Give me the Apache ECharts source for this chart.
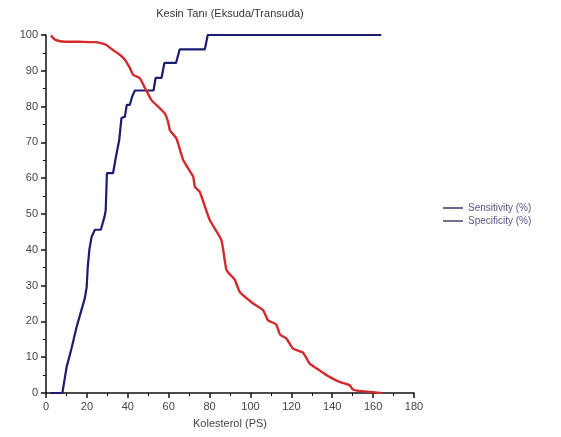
<!DOCTYPE html>
<html>
<head>
<meta charset="utf-8">
<script src="https://cdn.jsdelivr.net/npm/echarts@6/dist/echarts.min.js"></script>
<style>html,body{margin:0;padding:0;background:#fff}#c{width:561px;height:437px}</style>
</head>
<body>
<div id="c"></div>
<script>
var titleText = 'Kesin Tanı (Eksuda/Transuda)';
var xName = 'Kolesterol (PS)';
var seriesNames = ['Sensitivity (%)', 'Specificity (%)'];
var sensX = [2, 8, 10.1, 12.5, 15, 16, 19, 19.9, 20.4, 21.2, 22.3, 23.9, 26.8, 28.6, 29.2, 29.8, 32.8, 34.2, 35.8, 36.9, 38.6, 39.5, 41, 42.2, 43.5, 52.6, 53.6, 56.5, 57.9, 63.6, 65.4, 77.7, 79.1, 164];
var sensY = [0, 0, 7.3, 12.5, 18.5, 20.5, 26.5, 29.6, 35, 40, 43.6, 45.6, 45.6, 49.2, 51, 61.4, 61.4, 66, 70.6, 76.8, 77.2, 80.5, 80.5, 82.9, 84.5, 84.5, 88, 88, 92.2, 92.2, 96, 96, 100, 100];
var specX = [2.4, 4.4, 7.7, 16.6, 23.9, 26.4, 29.6, 31.3, 36.1, 38.6, 41, 42.6, 45.9, 48.4, 51.6, 55.7, 58.1, 59.7, 60.6, 63.8, 67.1, 72, 72.8, 75.2, 80.1, 85.8, 88.3, 92.3, 94.8, 101.3, 106.2, 108.6, 112.5, 114.5, 117.6, 120.8, 125.7, 129, 133.9, 138.7, 143.6, 148.5, 150.1, 153.4, 164];
var specY = [99.9, 98.7, 98.2, 98.1, 98, 97.8, 97.2, 96.4, 94.5, 93.1, 90.8, 88.9, 87.9, 85.2, 81.8, 79.5, 78.1, 75.8, 73.4, 71.1, 65.1, 60.4, 57.6, 56.2, 48.3, 42.7, 34.3, 31.7, 28.2, 25, 23.1, 20.3, 19.2, 16.3, 15.2, 12.4, 11.3, 8.2, 6.3, 4.5, 3.1, 2.2, 1, 0.6, 0];

function pairs(xs, ys) { return xs.map(function (x, i) { return [x, ys[i]]; }); }

var chart = echarts.init(document.getElementById('c'), null, {renderer: 'canvas'});
var axisCommon = {
  axisLine: {show: true, onZero: false, lineStyle: {color: '#111', width: 1.5}},
  axisTick: {show: true, inside: false, length: 5, lineStyle: {color: '#111', width: 1.5}},
  minorTick: {show: true, splitNumber: 2, length: 3, lineStyle: {color: '#111', width: 1}},
  splitLine: {show: false},
  axisLabel: {color: '#444', fontSize: 11, fontFamily: 'Liberation Sans, Arial, sans-serif'}
};
chart.setOption({
  animation: false,
  backgroundColor: '#fff',
  title: {
    text: titleText, left: 225, top: 3, textAlign: 'center',
    textStyle: {fontSize: 11, fontWeight: 'normal', color: '#333', fontFamily: 'Liberation Sans, Arial, sans-serif'}
  },
  legend: {
    orient: 'vertical', left: 438, top: 198, itemGap: 3, itemWidth: 20, itemHeight: 10,
    textStyle: {color: '#55558a', fontSize: 10, fontFamily: 'Liberation Sans, Arial, sans-serif'},
    icon: 'path://M0,4.5L20,4.5L20,6.5L0,6.5Z',
    data: [
      {name: seriesNames[0], itemStyle: {color: '#6a6a98'}},
      {name: seriesNames[1], itemStyle: {color: '#7a6c96'}}
    ]
  },
  grid: {left: 46, right: 147, top: 35, bottom: 44},
  xAxis: Object.assign({
    type: 'value', min: 0, max: 180, interval: 20,
    name: xName, nameLocation: 'middle', nameGap: 25,
    nameTextStyle: {color: '#444', fontSize: 11, fontFamily: 'Liberation Sans, Arial, sans-serif'}
  }, axisCommon),
  yAxis: Object.assign({type: 'value', min: 0, max: 100, interval: 10}, axisCommon),
  series: [
    {
      name: seriesNames[0], type: 'line', showSymbol: false, symbol: 'none',
      data: pairs(sensX, sensY), color: '#1c1c6e',
      lineStyle: {color: '#1c1c6e', width: 2.2}
    },
    {
      name: seriesNames[1], type: 'line', showSymbol: false, symbol: 'none', smooth: 0.15,
      data: pairs(specX, specY), color: '#d42a2e',
      lineStyle: {color: '#d42a2e', width: 2.4}
    }
  ]
});
</script>
</body>
</html>
